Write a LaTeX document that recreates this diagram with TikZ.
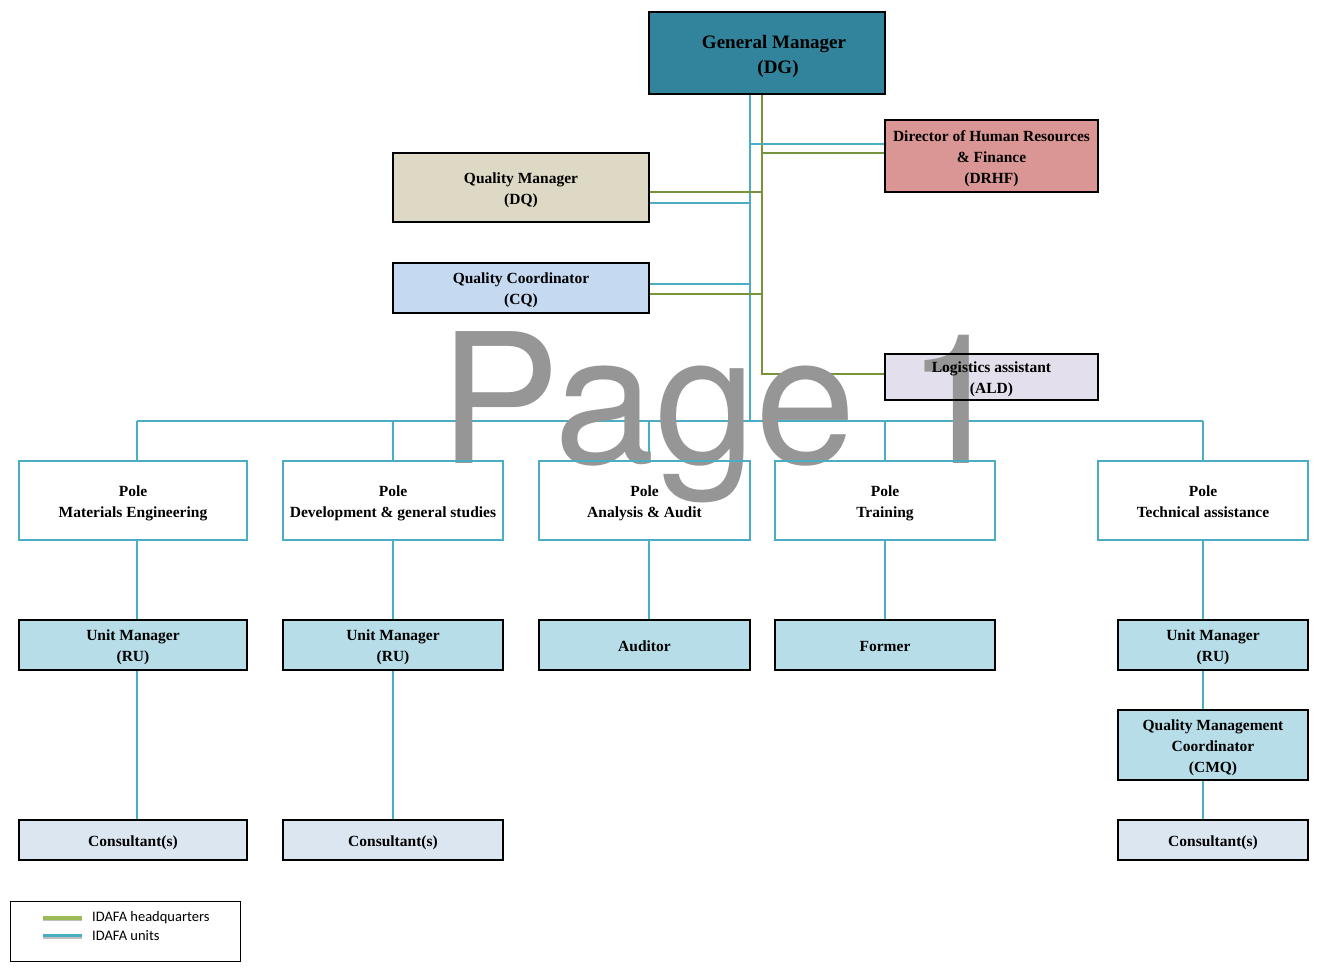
\documentclass[tikz,border=0pt]{standalone}
\usepackage{fontspec}
\setmainfont{Liberation Serif}
\newfontfamily\wmfont{TeX Gyre Heros}
\newfontfamily\legfont{Carlito}
\usetikzlibrary{calc}
\definecolor{unitblue}{HTML}{4BACC6}
\definecolor{hqgreen}{HTML}{77933C}
\definecolor{leggreen}{HTML}{9BBB59}
\definecolor{dgfill}{HTML}{31849B}
\definecolor{drhffill}{HTML}{DA9694}
\definecolor{dqfill}{HTML}{DDD9C4}
\definecolor{cqfill}{HTML}{C5D9F1}
\definecolor{aldfill}{HTML}{E4DFEC}
\definecolor{umfill}{HTML}{B7DEE8}
\definecolor{consfill}{HTML}{DCE6F1}
\definecolor{wmgray}{HTML}{969696}
\pgfdeclarelayer{bg}
\pgfdeclarelayer{wm}
\pgfsetlayers{bg,wm,main}
\newcommand{\bs}{\rule[-4.5pt]{0pt}{21pt}}
\newcommand{\ds}{\rule[-5pt]{0pt}{25pt}}
\begin{document}
\begin{tikzpicture}[x=1pt,y=-1pt,
  box/.style={draw=black, line width=2pt, align=center, inner sep=0pt,
    font=\bfseries\fontsize{15.5}{21}\selectfont},
  sz/.style 2 args={minimum width=#1pt, minimum height=#2pt},
  polebox/.style={box, draw=unitblue},
  unit/.style={draw=unitblue, line width=2pt},
  hq/.style={draw=hqgreen, line width=2pt},
  legtext/.style={anchor=west, inner sep=0pt, font=\legfont\fontsize{14.5}{17}\selectfont},
]
\useasboundingbox (0,0) rectangle (1334,972);
\begin{pgfonlayer}{bg}
\fill[white] (0,0) rectangle (1334,972);
\end{pgfonlayer}

% upper boxes
\node[box, fill=dgfill, sz={236}{82}, font=\bfseries\fontsize{19}{25}\selectfont] (dg) at (767,53) {\ds\hspace*{14pt}General Manager\\\hspace*{22pt}(DG)\ds};
\node[box, fill=drhffill, sz={213}{72}] (drhf) at (991.5,156) {\bs Director of Human Resources\\\& Finance\\(DRHF)\bs};
\node[box, fill=dqfill, sz={256}{69}] (dq) at (521,187.5) {\bs Quality Manager\\(DQ)\bs};
\node[box, fill=cqfill, sz={256}{50}] (cq) at (521,288) {\bs Quality Coordinator\\(CQ)\bs};
\node[box, sz={213}{46}] (ald) at (991.5,377) {\bs Logistics assistant\\(ALD)\bs};

% poles
\node[polebox, sz={228}{79}] (p1) at (133,500.5) {\bs Pole\\Materials Engineering\bs};
\node[polebox, sz={220}{79}] (p2) at (393,500.5) {\bs Pole\\Development \& general studies\bs};
\node[polebox, sz={211}{79}] (p3) at (644.5,500.5) {\bs Pole\\Analysis \& Audit\bs};
\node[polebox, sz={220}{79}] (p4) at (885,500.5) {\bs Pole\\Training\bs};
\node[polebox, sz={210}{79}] (p5) at (1203,500.5) {\bs Pole\\Technical assistance\bs};

% lower boxes
\node[box, fill=umfill, sz={228}{50}] (um1) at (133,645) {\bs Unit Manager\\(RU)\bs};
\node[box, fill=umfill, sz={220}{50}] (um2) at (393,645) {\bs Unit Manager\\(RU)\bs};
\node[box, fill=umfill, sz={211}{50}] (aud) at (644.5,645) {\bs Auditor\bs};
\node[box, fill=umfill, sz={220}{50}] (form) at (885,645) {\bs Former\bs};
\node[box, fill=umfill, sz={190}{50}] (um5) at (1213,645) {\bs Unit Manager\\(RU)\bs};
\node[box, fill=umfill, sz={190}{70}] (cmq) at (1213,745) {\bs Quality Management\\Coordinator\\(CMQ)\bs};
\node[box, fill=consfill, sz={228}{40}] (c1) at (133,840) {\bs Consultant(s)\bs};
\node[box, fill=consfill, sz={220}{40}] (c2) at (393,840) {\bs Consultant(s)\bs};
\node[box, fill=consfill, sz={190}{40}] (c5) at (1213,840) {\bs Consultant(s)\bs};

% legend
\node[draw=black, line width=0.8pt, sz={230}{60}, inner sep=0pt] (leg) at (125,931) {};
\node[legtext] (lhq) at (92,918) {IDAFA headquarters};
\node[legtext] (lun) at (92,935.5) {IDAFA units};

\begin{pgfonlayer}{bg}
\fill[aldfill] (ald.south west) rectangle (ald.north east);
\coordinate (bl) at ([xshift=-17pt]dg.south);
\coordinate (gr) at ([xshift=-5pt]dg.south);
\coordinate (busL) at (137,421);
\coordinate (busR) at (1203,421);
\draw[unit] (busL) -- (busR);
\draw[unit] (bl) -- (bl |- busL);
\draw[hq] (gr) |- ([yshift=3pt]ald.west);
\coordinate (d1) at ([yshift=12pt]drhf.west);
\draw[unit] (d1) -- (d1 -| bl);
\coordinate (d2) at ([yshift=3pt]drhf.west);
\draw[hq] (d2) -- (d2 -| gr);
\coordinate (q1) at ([yshift=-4.5pt]dq.east);
\draw[hq] (q1) -- (q1 -| gr);
\coordinate (q2) at ([yshift=-15.5pt]dq.east);
\draw[unit] (q2) -- (q2 -| bl);
\coordinate (k1) at ([yshift=4pt]cq.east);
\draw[unit] (k1) -- (k1 -| bl);
\coordinate (k2) at ([yshift=-6pt]cq.east);
\draw[hq] (k2) -- (k2 -| gr);
% pole branches
\draw[unit] (busL) -- ([xshift=4pt]p1.north);
\draw[unit] ([xshift=4pt]p1.south) -- ([xshift=4pt]um1.north);
\draw[unit] ([xshift=4pt]um1.south) -- ([xshift=4pt]c1.north);
\draw[unit] (p2.north) -- (p2.north |- busL);
\draw[unit] (p2.south) -- (um2.north);
\draw[unit] (um2.south) -- (c2.north);
\coordinate (t3) at ([xshift=4.5pt]p3.north);
\draw[unit] (t3) -- (t3 |- busL);
\draw[unit] ([xshift=4.5pt]p3.south) -- ([xshift=4.5pt]aud.north);
\draw[unit] (p4.north) -- (p4.north |- busL);
\draw[unit] (p4.south) -- (form.north);
\draw[unit] (p5.north) -- (busR);
\draw[unit] (p5.south) -- ([xshift=-10pt]um5.north);
\draw[unit] ([xshift=-10pt]um5.south) -- ([xshift=-10pt]cmq.north);
\draw[unit] ([xshift=-10pt]cmq.south) -- ([xshift=-10pt]c5.north);
% legend swatches
\draw[black!25, line width=3pt] ([xshift=-10pt,yshift=-1.5pt]lhq.west) -- ++(-39,0);
\draw[leggreen, line width=3.5pt] ([xshift=-10pt]lhq.west) -- ++(-39,0);
\draw[black!25, line width=3pt] ([xshift=-10pt,yshift=-1.5pt]lun.west) -- ++(-39,0);
\draw[unitblue, line width=3.5pt] ([xshift=-10pt]lun.west) -- ++(-39,0);
\end{pgfonlayer}

\begin{pgfonlayer}{wm}
\node[anchor=base west, inner sep=0pt, text=wmgray, font=\wmfont\fontsize{181}{181}\selectfont] (wmk) at (439,463) {Page 1};
\end{pgfonlayer}
\end{tikzpicture}
\end{document}
